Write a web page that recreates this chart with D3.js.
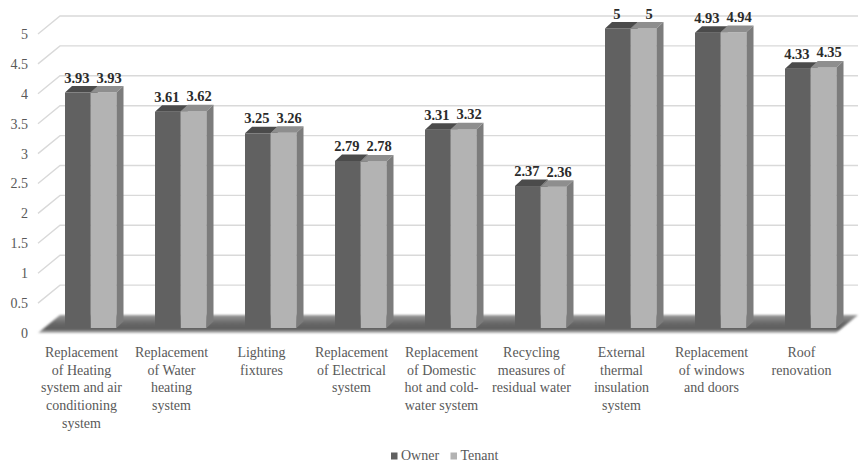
<!DOCTYPE html>
<html>
<head>
<meta charset="utf-8">
<script src="https://cdn.jsdelivr.net/npm/d3@7"></script>
<style>
  body { margin: 0; background: #fff; }
  svg text { font-family: "Liberation Serif", "Times New Roman", serif; }
</style>
</head>
<body>
<svg id="chart"></svg>
<script>
// category labels, "\n" marks a line break
const categories = [
  "Replacement\nof Heating\nsystem and air\nconditioning\nsystem",
  "Replacement\nof Water\nheating\nsystem",
  "Lighting\nfixtures",
  "Replacement\nof Electrical\nsystem",
  "Replacement\nof Domestic\nhot and cold-\nwater system",
  "Recycling\nmeasures of\nresidual water",
  "External\nthermal\ninsulation\nsystem",
  "Replacement\nof windows\nand doors",
  "Roof\nrenovation"
];
const seriesNames = ["Owner", "Tenant"];
const owner = [3.93, 3.61, 3.25, 2.79, 3.31, 2.37, 5, 4.93, 4.33];
const tenant = [3.93, 3.62, 3.26, 2.78, 3.32, 2.36, 5, 4.94, 4.35];
const yTicks = [0, 0.5, 1, 1.5, 2, 2.5, 3, 3.5, 4, 4.5, 5];

const width = 860, height = 464;
const serif = "'Liberation Serif', 'Times New Roman', serif";
const depth = { x: 22, y: 18 };   // wall depth offset
const barDepth = { x: 7, y: 6.5 };
const colors = {
  Owner: { front: "#616161", top: "#4b4b4b", side: "#505050" },
  Tenant: { front: "#b3b3b3", top: "#8e8e8e", side: "#7c7c7c" }
};

const svg = d3.select("#chart").attr("width", width).attr("height", height);

const data = categories.map((c, i) => ({ cat: c, Owner: owner[i], Tenant: tenant[i] }));

// Scales
const x = d3.scaleBand().domain(categories).range([36.5, 846.5]);
const xSub = d3.scaleBand().domain(seriesNames).range([28.5, 80]);
const yAxisScale = d3.scaleLinear().domain([0, 5]).range([333, 34]);
const yBar = d3.scaleLinear().domain([0, 5]).range([328, 28.5]);

// Gridlines: diagonal side + back wall
const grid = svg.append("g").attr("stroke", "#d9d9d9").attr("stroke-width", 1.4).attr("fill", "none");
grid.selectAll("path")
  .data(yTicks.filter(d => d > 0))
  .join("path")
  .attr("d", d => {
    const yf = yAxisScale(d);
    return `M38,${yf}L${38 + depth.x},${yf - depth.y}H858`;
  });

// Floor
const defs = svg.append("defs");
const fg = defs.append("linearGradient").attr("id", "floorGrad")
  .attr("x1", 0).attr("y1", 0).attr("x2", 0).attr("y2", 1);
fg.append("stop").attr("offset", "0%").attr("stop-color", "#9a9a9a");
fg.append("stop").attr("offset", "45%").attr("stop-color", "#686868");
fg.append("stop").attr("offset", "80%").attr("stop-color", "#5e5e5e");
fg.append("stop").attr("offset", "100%").attr("stop-color", "#c4c4c4");
defs.append("filter").attr("id", "soft")
  .append("feGaussianBlur").attr("stdDeviation", 0.9);

const y0 = yAxisScale(0);
svg.append("path")
  .attr("d", `M38,${y0}L${38 + depth.x},${y0 - depth.y}L858,${y0 - depth.y}L836,${y0}Z`)
  .attr("fill", "url(#floorGrad)")
  .attr("filter", "url(#soft)");

// Bars
const barW = xSub.bandwidth();
const groups = svg.append("g").selectAll("g")
  .data(data)
  .join("g")
  .attr("transform", d => `translate(${x(d.cat)},0)`);

seriesNames.forEach(s => {
  const bar = groups.append("g");
  bar.append("rect")
    .attr("x", xSub(s))
    .attr("y", d => yBar(d[s]))
    .attr("width", barW)
    .attr("height", d => yBar(0) - yBar(d[s]))
    .attr("fill", colors[s].front);
  bar.append("path")
    .attr("d", d => {
      const l = xSub(s), t = yBar(d[s]);
      return `M${l},${t}L${l + barDepth.x},${t - barDepth.y}L${l + barW + barDepth.x},${t - barDepth.y}L${l + barW},${t}Z`;
    })
    .attr("fill", colors[s].top);
  bar.append("path")
    .attr("d", d => {
      const r = xSub(s) + barW, t = yBar(d[s]), b = yBar(0);
      return `M${r},${t}L${r + barDepth.x},${t - barDepth.y}L${r + barDepth.x},${b - barDepth.y}L${r},${b}Z`;
    })
    .attr("fill", colors[s].side);
});

// Value labels
const labelShift = { Owner: -1, Tenant: 5.5 };
seriesNames.forEach(s => {
  groups.append("text")
    .attr("x", xSub(s) + barW / 2 + labelShift[s])
    .attr("y", d => yBar(d[s]) - 10)
    .attr("text-anchor", "middle")
    .attr("font-family", serif)
    .style("font-size", "14.5px")
    .style("font-weight", "bold")
    .attr("fill", "#2b2b2b")
    .text(d => d[s]);
});

// Y axis labels
const yAxis = svg.append("g")
  .attr("transform", "translate(38,0)")
  .call(d3.axisLeft(yAxisScale).tickValues(yTicks).tickSize(0).tickPadding(10).tickFormat(d3.format("")));
yAxis.attr("font-family", serif);
yAxis.select(".domain").remove();
yAxis.selectAll("text")
  .style("font-size", "14px")
  .attr("fill", "#595959");

// Category labels
const catText = svg.append("g").selectAll("text")
  .data(categories)
  .join("text")
  .attr("x", d => x(d) + x.bandwidth() / 2)
  .attr("y", 357)
  .attr("text-anchor", "middle")
  .attr("font-family", serif)
  .style("font-size", "14px")
  .attr("fill", "#595959");
catText.selectAll("tspan")
  .data(d => d.split("\n").map(t => ({ t, cx: x(d) + x.bandwidth() / 2 })))
  .join("tspan")
  .attr("x", d => d.cx)
  .attr("dy", (d, i) => i === 0 ? 0 : 17.7)
  .text(d => d.t);

// Legend
const legend = svg.append("g").attr("transform", "translate(391,460)");
const legendX = { Owner: 0, Tenant: 59.5 };
seriesNames.forEach(s => {
  const g = legend.append("g").attr("transform", `translate(${legendX[s]},0)`);
  g.append("rect").attr("x", 0).attr("y", -7.5).attr("width", 6.5).attr("height", 7)
    .attr("fill", colors[s].front);
  g.append("text").attr("x", 10).attr("y", 0)
    .attr("font-family", serif)
    .style("font-size", "14px").attr("fill", "#595959").text(s);
});
</script>
</body>
</html>
